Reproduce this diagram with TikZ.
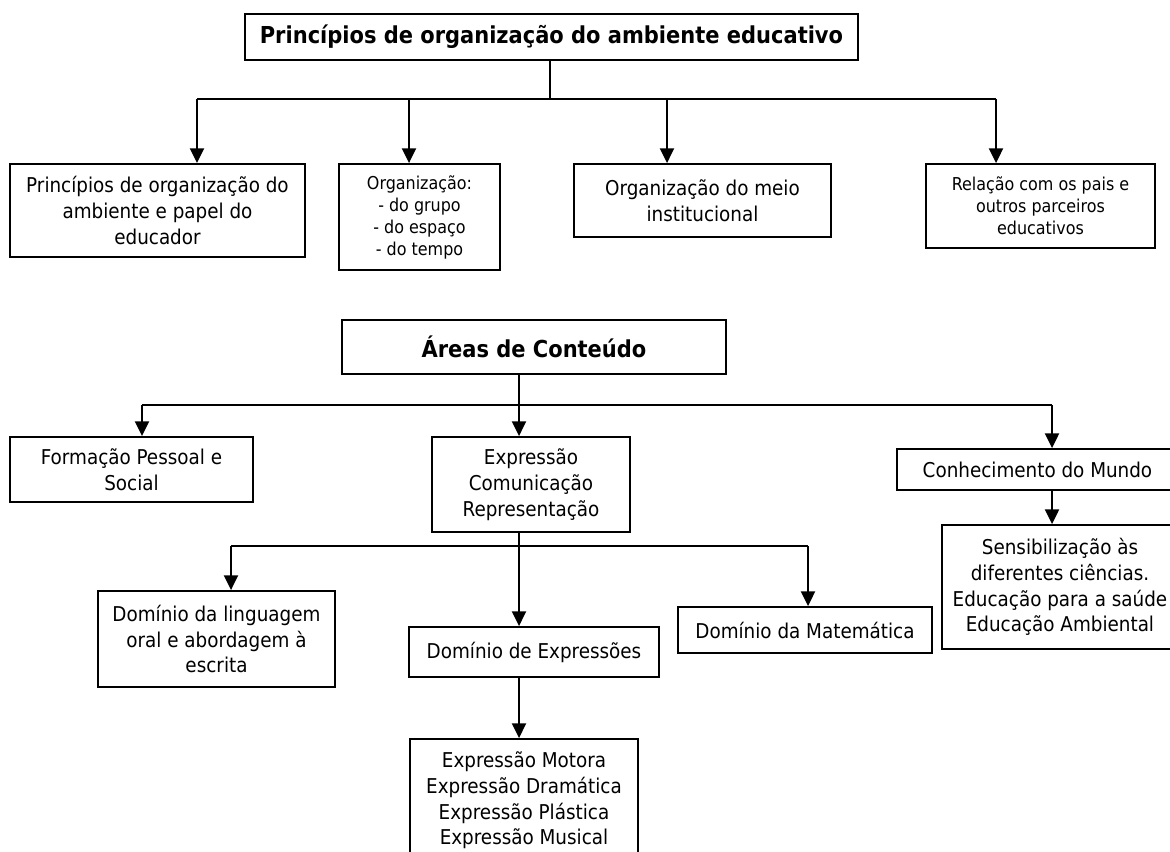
\documentclass[tikz,border=0pt]{standalone}
\usepackage{fontspec}
\setmainfont{DejaVu Sans Condensed}
\usetikzlibrary{arrows.meta}
\begin{document}
\begin{tikzpicture}[x=0.75pt,y=-0.75pt,
  box/.style={draw,line width=1.4pt,inner sep=0pt,align=center,font=\fontsize{15.3}{19.3}\selectfont},
  smallbox/.style={box,font=\fontsize{13.3}{16.5}\selectfont},
  titlebox/.style={box,font=\fontsize{17.5}{21}\selectfont\bfseries},
  conn/.style={line width=1.5pt},
  arr/.style={conn,-{Triangle[length=11pt,width=10.5pt]}},
]
\useasboundingbox (0,0) rectangle (1170,851);

% ---- Section 1 ----
\node[titlebox,minimum width=459.75pt,minimum height=34.5pt] (t1) at (551.5,37) {Princípios de organização do ambiente educativo};
\node[box,minimum width=221.25pt,minimum height=69.75pt] (a) at (157.5,210.5) {Princípios de organização do\\ambiente e papel do\\educador};
\node[smallbox,minimum width=120.75pt,minimum height=79.5pt] (b) at (419.5,217) {Organização:\\- do grupo\\- do espaço\\- do tempo};
\node[box,minimum width=192.75pt,minimum height=54.75pt] (c) at (702.5,200.5) {Organização do meio\\institucional};
\node[smallbox,minimum width=171.75pt,minimum height=63pt] (d) at (1040.5,206) {Relação com os pais e\\outros parceiros\\educativos};

\coordinate (j1) at (550,99);
\coordinate (j1a) at (197,99);
\coordinate (j1b) at (409,99);
\coordinate (j1c) at (667,99);
\coordinate (j1d) at (996,99);
\draw[conn] (t1.south -| j1) -- (j1);
\draw[conn] (j1a) -- (j1d);
\draw[arr] (j1a) -- (j1a |- a.north);
\draw[arr] (j1b) -- (j1b |- b.north);
\draw[arr] (j1c) -- (j1c |- c.north);
\draw[arr] (j1d) -- (j1d |- d.north);

% ---- Section 2 ----
\node[titlebox,minimum width=288pt,minimum height=40.5pt] (t2) at (534,347) {Áreas de Conteúdo};
\node[box,minimum width=182.25pt,minimum height=48.75pt] (f) at (131.5,469.5) {Formação Pessoal e\\Social};
\node[box,minimum width=148.5pt,minimum height=71.25pt] (e) at (531,484.5) {Expressão\\Comunicação\\Representação};
\node[box,minimum width=210.75pt,minimum height=30.75pt] (k) at (1037.5,469.5) {Conhecimento do Mundo};
\node[box,minimum width=177pt,minimum height=93pt] (s) at (1060,587) {Sensibilização às\\diferentes ciências.\\Educação para a saúde\\Educação Ambiental};
\node[box,minimum width=177.75pt,minimum height=72pt] (l) at (216.5,639) {Domínio da linguagem\\oral e abordagem à\\escrita};
\node[box,minimum width=187.5pt,minimum height=37.5pt] (de) at (534,652) {Domínio de Expressões};
\node[box,minimum width=190.5pt,minimum height=34.5pt] (m) at (805,630) {Domínio da Matemática};
\node[box,minimum width=171pt,minimum height=92.25pt] (x) at (524,800.5) {Expressão Motora\\Expressão Dramática\\Expressão Plástica\\Expressão Musical};

\coordinate (j2) at (519,405);
\coordinate (j2a) at (142,405);
\coordinate (j2c) at (1052,405);
\draw[conn] (j2a) -- (j2c);
\draw[arr] (t2.south -| j2) -- (j2 |- e.north);
\draw[arr] (j2a) -- (j2a |- f.north);
\draw[arr] (j2c) -- (j2c |- k.north);
\draw[arr] (k.south -| j2c) -- (j2c |- s.north);

\coordinate (j3) at (519,546);
\coordinate (j3a) at (231,546);
\coordinate (j3c) at (808,546);
\draw[conn] (j3a) -- (j3c);
\draw[arr] (e.south -| j3) -- (j3 |- de.north);
\draw[arr] (j3a) -- (j3a |- l.north);
\draw[arr] (j3c) -- (j3c |- m.north);
\draw[arr] (de.south -| j3) -- (j3 |- x.north);
\end{tikzpicture}
\end{document}
